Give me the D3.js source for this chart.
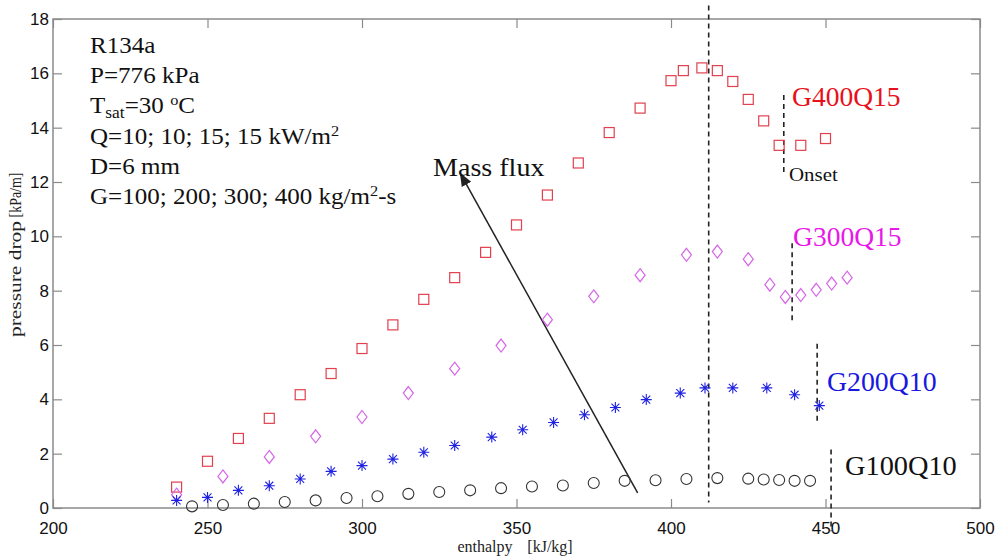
<!DOCTYPE html>
<html>
<head>
<meta charset="utf-8">
<script src="https://cdn.jsdelivr.net/npm/d3@7"></script>
<style>
  body { margin: 0; background: #fff; }
  svg { display: block; }
</style>
</head>
<body>
<div id="mainChart"></div>
<script>
// enthalpy [kJ/kg] / pressure drop [kPa/m]
const g400x = [240, 250, 260, 270, 280, 290, 300, 310, 320, 330, 340, 350, 360, 370, 380, 390, 400, 404, 410, 415, 420, 425, 430, 435, 442, 450];
const g400y = [0.77, 1.72, 2.56, 3.3, 4.17, 4.95, 5.87, 6.74, 7.68, 8.48, 9.41, 10.42, 11.52, 12.7, 13.82, 14.72, 15.73, 16.1, 16.2, 16.1, 15.7, 15.04, 14.25, 13.35, 13.35, 13.6];

const g300x = [240, 255, 270, 285, 300, 315, 330, 345, 360, 375, 390, 405, 415, 425, 432, 437, 442, 447, 452, 457];
const g300y = [0.49, 1.16, 1.88, 2.64, 3.35, 4.23, 5.13, 5.98, 6.93, 7.79, 8.57, 9.32, 9.44, 9.16, 8.22, 7.77, 7.84, 8.03, 8.26, 8.48];

const g200x = [240, 250, 260, 270, 280, 290, 300, 310, 320, 330, 342, 352, 362, 372, 382, 392, 403, 411, 420, 431, 440, 448];
const g200y = [0.28, 0.39, 0.65, 0.82, 1.07, 1.35, 1.56, 1.8, 2.05, 2.3, 2.61, 2.88, 3.15, 3.43, 3.7, 3.99, 4.23, 4.42, 4.42, 4.42, 4.17, 3.77];

const g100x = [245, 255, 265, 275, 285, 295, 305, 315, 325, 335, 345, 355, 365, 375, 385, 395, 405, 415, 425, 430, 435, 440, 445];
const g100y = [0.06, 0.11, 0.16, 0.22, 0.28, 0.37, 0.43, 0.52, 0.59, 0.65, 0.73, 0.79, 0.83, 0.92, 1.0, 1.02, 1.07, 1.1, 1.08, 1.05, 1.03, 1.0, 1.0];

const xTicks = [200, 250, 300, 350, 400, 450, 500];
const yTicks = [0, 2, 4, 6, 8, 10, 12, 14, 16, 18];

// dashed markers: [x, yTop, yBottom]
const dryout = [412.2, 18.5, 0.2];
const onsetLines = [
    [436.5, 15.2, 12.3],
    [439.2, 9.75, 6.8],
    [447.3, 6.05, 3.07],
    [451.8, 2.15, -0.86]
];
const arrowFrom = [389.2, 0.56];
const arrowTo = [331.9, 12.3];

const infoLines = ['R134a', 'P=776 kPa', 'Tsat=30 oC', 'Q=10; 10; 15; 15 kW/m2', 'D=6 mm', 'G=100; 200; 300; 400 kg/m2-s'];

const width = 995, height = 556;
const margin = { top: 19, right: 15, bottom: 48, left: 53 };

const svg = d3.select('#mainChart').append('svg')
    .attr('width', width)
    .attr('height', height);

const x = d3.scaleLinear()
    .domain([200, 500])
    .range([margin.left, width - margin.right]);

const y = d3.scaleLinear()
    .domain([0, 18])
    .range([height - margin.bottom, margin.top]);

const frame = '#8a8a8a';
const tickFont = '"Liberation Sans", Arial, sans-serif';
const serif = '"Liberation Serif", "Times New Roman", serif';

// frame
svg.append('rect')
    .attr('x', x(200)).attr('y', y(18))
    .attr('width', x(500) - x(200)).attr('height', y(0) - y(18))
    .attr('fill', 'none').attr('stroke', frame).attr('stroke-width', 1.5);

// inward ticks on all four sides
const styleAxis = g => {
    g.select('.domain').remove();
    g.selectAll('.tick line').attr('stroke', frame).attr('stroke-width', 1.2);
    g.selectAll('.tick text').attr('font-family', tickFont).attr('font-size', 17).attr('fill', '#111');
};

svg.append('g')
    .attr('transform', `translate(0,${y(0)})`)
    .call(d3.axisBottom(x).tickValues(xTicks).tickSize(-9).tickPadding(14).tickFormat(d3.format('d')))
    .call(styleAxis);

svg.append('g')
    .attr('transform', `translate(0,${y(18)})`)
    .call(d3.axisTop(x).tickValues(xTicks).tickSize(-9).tickFormat(''))
    .call(styleAxis);

svg.append('g')
    .attr('transform', `translate(${x(200)},0)`)
    .call(d3.axisLeft(y).tickValues(yTicks).tickSize(-9).tickPadding(4).tickFormat(d3.format('d')))
    .call(styleAxis);

svg.append('g')
    .attr('transform', `translate(${x(500)},0)`)
    .call(d3.axisRight(y).tickValues(yTicks).tickSize(-9).tickFormat(''))
    .call(styleAxis);

// axis labels
const axisLabel = svg.append('g')
    .attr('font-family', serif).attr('font-size', 16).attr('fill', '#222')
    .attr('text-anchor', 'middle');

axisLabel.append('text').attr('x', 485).attr('y', 552).text('enthalpy');
axisLabel.append('text').attr('x', 550).attr('y', 552).text('[kJ/kg]');

axisLabel.append('text')
    .attr('transform', 'translate(21,279) rotate(-90)')
    .attr('font-size', 17)
    .attr('textLength', 116).attr('lengthAdjust', 'spacingAndGlyphs')
    .text('pressure drop');
axisLabel.append('text')
    .attr('transform', 'translate(21,195) rotate(-90)')
    .attr('font-size', 17)
    .attr('textLength', 45).attr('lengthAdjust', 'spacingAndGlyphs')
    .text('[kPa/m]');

// dashed lines
const dashed = (d) => svg.append('line')
    .attr('x1', x(d[0])).attr('x2', x(d[0]))
    .attr('y1', y(d[1])).attr('y2', y(d[2]))
    .attr('stroke', '#222').attr('stroke-width', 1.6)
    .attr('stroke-dasharray', '5,4');

dashed(dryout);
onsetLines.forEach(dashed);

// mass flux arrow
svg.append('defs').append('marker')
    .attr('id', 'arrowHead')
    .attr('viewBox', '0 0 10 10')
    .attr('refX', 9).attr('refY', 5)
    .attr('markerWidth', 9).attr('markerHeight', 9)
    .attr('orient', 'auto')
    .append('path')
    .attr('d', 'M0,1 L10,5 L0,9 Z')
    .attr('fill', '#222');

svg.append('line')
    .attr('x1', x(arrowFrom[0])).attr('y1', y(arrowFrom[1]))
    .attr('x2', x(arrowTo[0])).attr('y2', y(arrowTo[1]))
    .attr('stroke', '#222').attr('stroke-width', 1.5)
    .attr('marker-end', 'url(#arrowHead)');

// markers
const zip = (xs, ys) => xs.map((v, i) => [v, ys[i]]);

svg.append('g').selectAll('rect')
    .data(zip(g400x, g400y))
    .join('rect')
    .attr('x', d => x(d[0]) - 5).attr('y', d => y(d[1]) - 5)
    .attr('width', 10).attr('height', 10)
    .attr('fill', 'none').attr('stroke', '#e2404e').attr('stroke-width', 1.2);

svg.append('g').selectAll('path')
    .data(zip(g300x, g300y))
    .join('path')
    .attr('d', d => {
        const cx = x(d[0]), cy = y(d[1]);
        return `M${cx},${cy - 6.5}L${cx + 5},${cy}L${cx},${cy + 6.5}L${cx - 5},${cy}Z`;
    })
    .attr('fill', 'none').attr('stroke', '#d665e8').attr('stroke-width', 1.2);

svg.append('g').selectAll('path')
    .data(zip(g200x, g200y))
    .join('path')
    .attr('d', d => {
        const cx = x(d[0]), cy = y(d[1]), r = 5.5, q = r * 0.72;
        return `M${cx - r},${cy}L${cx + r},${cy}M${cx},${cy - r}L${cx},${cy + r}` +
            `M${cx - q},${cy - q}L${cx + q},${cy + q}M${cx - q},${cy + q}L${cx + q},${cy - q}`;
    })
    .attr('fill', 'none').attr('stroke', '#1f22e0').attr('stroke-width', 1.1);

svg.append('g').selectAll('circle')
    .data(zip(g100x, g100y))
    .join('circle')
    .attr('cx', d => x(d[0])).attr('cy', d => y(d[1]))
    .attr('r', 5.5)
    .attr('fill', 'none').attr('stroke', '#333').attr('stroke-width', 1.1);

// series labels (slightly stretched wide, like the source image)
const label = (txt, px, py, color, size, sx) => svg.append('text')
    .attr('transform', `translate(${px},${py}) scale(${sx || 1},1)`)
    .attr('font-family', serif).attr('font-size', size).attr('fill', color)
    .text(txt);

label('G400Q15', 792, 106, '#e8101a', 27, 1.02);
label('Onset', 789, 181, '#111', 19, 1.1);
label('G300Q15', 793, 246, '#e818e8', 27, 1.02);
label('G200Q10', 827, 391, '#1818e0', 27, 1.03);
label('G100Q10', 845, 475, '#111', 27, 1.05);
label('Mass flux', 433, 176, '#111', 26, 1.08);

// info block
const info = svg.append('g')
    .attr('transform', 'translate(90,0) scale(1.09,1)')
    .attr('font-family', serif).attr('font-size', 23).attr('fill', '#111');

infoLines.forEach((line, i) => {
    const t = info.append('text').attr('x', 0).attr('y', 53 + i * 30.2);
    if (line.startsWith('Tsat')) {
        t.append('tspan').text('T');
        t.append('tspan').attr('font-size', 16).attr('dy', 5).text('sat');
        t.append('tspan').attr('dy', -5).text('=30 ');
        t.append('tspan').attr('font-size', 15).attr('dy', -8).text('o');
        t.append('tspan').attr('dy', 8).text('C');
    } else if (line.includes('m2')) {
        const parts = line.split('m2');
        t.append('tspan').text(parts[0] + 'm');
        t.append('tspan').attr('font-size', 15).attr('dy', -8).text('2');
        t.append('tspan').attr('dy', 8).text(parts[1]);
    } else {
        t.text(line);
    }
});
</script>
</body>
</html>
